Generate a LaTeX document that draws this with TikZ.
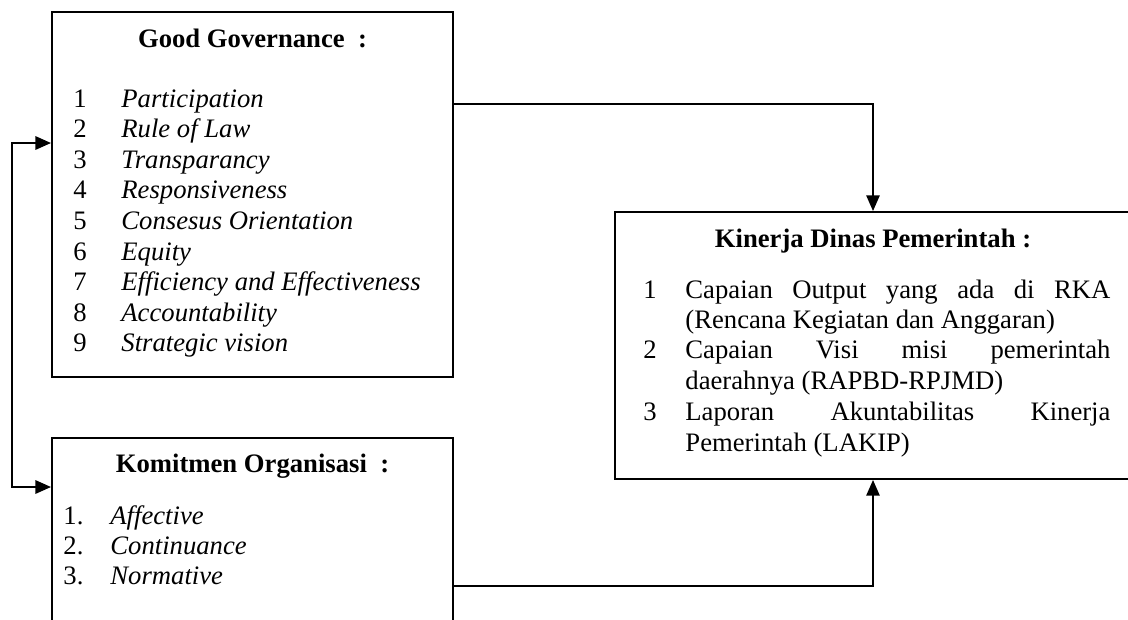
\documentclass[tikz,border=0pt]{standalone}
\usepackage{fontspec}
\setmainfont{Liberation Serif}
\usetikzlibrary{arrows.meta,fit}
\begin{document}
\begin{tikzpicture}[x=0.45pt,y=-0.45pt,
  box/.style={draw,line width=0.9pt,inner sep=0pt},
  txt/.style={inner sep=0pt,anchor=base west,font=\fontsize{12}{13.8}\selectfont},
  itx/.style={txt,font=\fontsize{12}{13.8}\selectfont\itshape},
  ttl/.style={inner sep=0pt,anchor=base,font=\fontsize{12}{13.8}\selectfont\bfseries},
  tip/.style={Triangle[length=7pt,width=6pt]},
  conn/.style={line width=0.6pt,-{Triangle[length=7pt,width=6pt]}},
  lconn/.style={line width=0.9pt,{Triangle[length=7pt,width=6pt]}-{Triangle[length=7pt,width=6pt]}}]
\clip (0,0) rectangle (1128,619);
% box corners
\coordinate (g1) at (52,12);   \coordinate (g2) at (453,377);
\coordinate (k1) at (52,438);  \coordinate (k2) at (453,660);
\coordinate (d1) at (615,212); \coordinate (d2) at (1131,479);
\node[box,fit=(g1)(g2)] (gg) {};
\node[box,fit=(k1)(k2)] (ko) {};
\node[box,fit=(d1)(d2)] (kdp) {};
% Good Governance
\node[ttl] (ggtitle) at (252.5,47) {Good Governance\ \ :};
\foreach \t [count=\i] in {Participation,Rule of Law,Transparancy,Responsiveness,Consesus Orientation,Equity,Efficiency and Effectiveness,Accountability,Strategic vision}{
  \node[txt] (ggn\i) at (73,{107+30.6*(\i-1)}) {\i};
  \node[itx] (ggt\i) at (121,{107+30.6*(\i-1)}) {\t};
}
% Komitmen Organisasi
\node[ttl] (kotitle) at (252.5,472) {Komitmen Organisasi\ \ :};
\foreach \t [count=\i] in {Affective,Continuance,Normative}{
  \node[txt] (kon\i) at (63,{524+30*(\i-1)}) {\i.};
  \node[itx] (kot\i) at (110,{524+30*(\i-1)}) {\t};
}
% Kinerja Dinas Pemerintah
\node[ttl] (kdptitle) at (873,247) {Kinerja Dinas Pemerintah :};
\node[txt] (kdn1) at (643,298) {1};
\node[txt] (kdn2) at (643,358) {2};
\node[txt] (kdn3) at (643,420) {3};
\node[txt] (kdl1) at (685,298) {\makebox[191.25pt][s]{Capaian Output yang ada di RKA}};
\node[txt] (kdl2) at (685,328) {(Rencana Kegiatan dan Anggaran)};
\node[txt] (kdl3) at (685,358) {\makebox[191.25pt][s]{Capaian Visi misi pemerintah}};
\node[txt] (kdl4) at (685,389) {daerahnya (RAPBD-RPJMD)};
\node[txt] (kdl5) at (685,420) {\makebox[191.25pt][s]{Laporan Akuntabilitas Kinerja}};
\node[txt] (kdl6) at (685,451) {Pemerintah (LAKIP)};
% connectors
\draw[conn] (gg.east |- 0,104) -| (kdp.north);
\draw[conn] (ko.east |- 0,586) -| (kdp.south);
\coordinate (lt) at (12,143);
\coordinate (lb) at (12,487);
\draw[lconn] (gg.west |- lt) -- (lt) -- (lb) -- (ko.west |- lb);
\end{tikzpicture}
\end{document}
